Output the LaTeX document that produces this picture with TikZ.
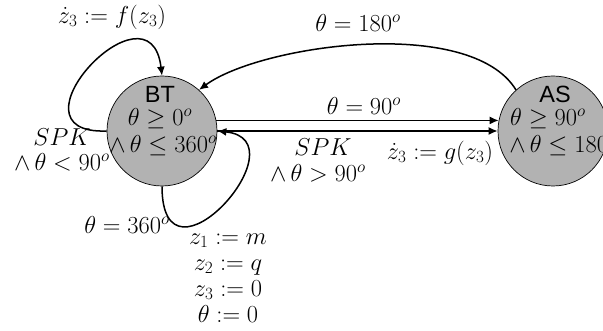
\RequirePackage{fix-cm}
\documentclass[tikz,border=0pt]{standalone}
\usepackage{fontspec}
\newfontfamily\helv{Liberation Sans}
\usetikzlibrary{arrows.meta}
\definecolor{stategray}{RGB}{178,178,178}
\tikzset{
  state/.style={circle, draw, line width=0.7pt, fill=stategray, minimum size=110pt, inner sep=0pt},
  txt/.style={font=\fontsize{24.5}{26}\selectfont, inner sep=0pt, align=center},
  sname/.style={font=\fontsize{23.5}{25}\selectfont\helv, inner sep=0pt},
  arr/.style={line width=1.5pt, -{Latex[length=9pt,width=8pt]}},
}
\begin{document}
\begin{tikzpicture}[x=1pt,y=-1pt]
\useasboundingbox (0,0) rectangle (603,331);
% states
\node[state] (BT) at (162,131) {};
\node[state] (AS) at (553,131) {};
\node[sname] (btn) at (160,94) {BT};
\node[txt] (bt1) at (160,119) {$\theta \geq 0^o$};
\node[txt] (bt2) at (163,146) {$\wedge\,\theta \leq 360^o$};
\node[sname] (asn) at (555,94) {AS};
\node[txt] (as1) at (548,119) {$\theta \geq 90^o$};
\node[txt] (as2) at (563,146) {$\wedge\,\theta \leq 180^o$};
% top self loop
\draw[arr] (BT.180) .. controls (0,135) and (150,-25) .. (BT.90);
\node[txt] (lf) at (112,17) {$\dot{z}_3 := f(z_3)$};
\node[txt] (spk1) at (62,137) {$SPK$};
\node[txt] (spk1b) at (62,162) {$\wedge\,\theta < 90^o$};
% bottom self loop
\draw[arr] (BT.270) .. controls (162,300) and (305,140) .. (BT.0);
\node[txt] (l360) at (127,225) {$\theta = 360^o$};
\node[txt] (reset) at (228,278) {$z_1 := m$\\$z_2 := q$\\$z_3 := 0$\\$\theta := 0$};
% straight transitions
\draw[arr] (BT.11) -- (AS.169);
\node[txt] (l90) at (364,106) {$\theta = 90^o$};
\draw[arr] (BT.0) -- (AS.180);
\node[txt] (spk2) at (323,147) {$SPK$};
\node[txt] (spk2b) at (318,173) {$\wedge\,\theta > 90^o$};
\node[txt] (lg) at (440,153) {$\dot{z}_3 := g(z_3)$};
% return transition
\draw[arr] (AS.132) .. controls (470,15) and (260,45) .. (BT.48);
\node[txt] (l180) at (358,23) {$\theta = 180^o$};
\end{tikzpicture}
\end{document}
